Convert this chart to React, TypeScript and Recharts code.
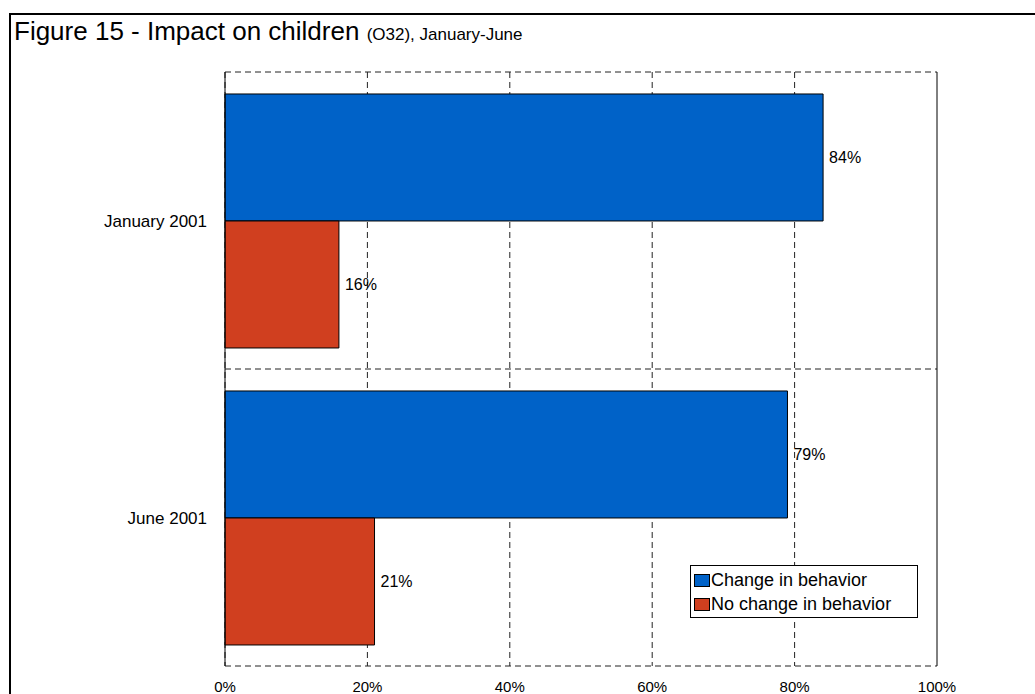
import React from "react";
import {
  BarChart,
  Bar,
  XAxis,
  YAxis,
  CartesianGrid,
  LabelList,
} from "recharts";

const periods = ["January 2001", "June 2001"];
const changed = [84, 79];
const unchanged = [16, 21];
const xTicks = [0, 20, 40, 60, 80, 100];

const FONT = "'Liberation Sans', Arial, Helvetica, sans-serif";

const series = [
  { key: "changed", name: "Change in behavior", color: "#0062c8" },
  { key: "unchanged", name: "No change in behavior", color: "#d03f1f" },
];

const data = periods.map((period, i) => ({
  period,
  changed: changed[i],
  unchanged: unchanged[i],
}));

const pct = (v: number) => `${v}%`;

// horizontal grid lines sit on the category boundaries, not on the tick centres
const boundaryLines = ({ offset }: any) => {
  const lines: number[] = [];
  for (let i = 0; i <= periods.length; i++) {
    lines.push(offset.top + (offset.height * i) / periods.length);
  }
  return lines;
};

// vertical grid: dashed, except the 100% line which closes the frame
const verticalLine = (p: any) => (
  <line
    key={p.key}
    x1={p.x1}
    y1={p.y1}
    x2={p.x2}
    y2={p.y2}
    stroke={p.index === xTicks.length - 1 ? "#000" : "#222"}
    strokeDasharray={p.index === xTicks.length - 1 ? undefined : "6 4"}
    fill="none"
  />
);

export default function App() {
  return (
    <div
      style={{
        position: "fixed",
        left: 0,
        top: 0,
        width: 1035,
        height: 694,
        background: "#fff",
        fontFamily: FONT,
        overflow: "hidden",
      }}
    >
      <div
        style={{
          position: "absolute",
          left: 9,
          top: 13,
          right: 0,
          bottom: 0,
          borderTop: "2px solid #000",
          borderLeft: "2px solid #000",
        }}
      />
      <div
        style={{
          position: "absolute",
          left: 14,
          top: 16,
          fontSize: 26,
          color: "#000",
          whiteSpace: "nowrap",
        }}
      >
        Figure 15 - Impact on children{" "}
        <span style={{ fontSize: 17 }}>(O32), January-June</span>
      </div>

      <div style={{ position: "absolute", left: 0, top: 0 }}>
        <BarChart
          width={1035}
          height={694}
          data={data}
          layout="vertical"
          margin={{ top: 72, right: 98, bottom: 0, left: 0 }}
          barCategoryGap="7.4%"
          barGap={0}
          style={{ fontFamily: FONT }}
        >
          <CartesianGrid
            stroke="#222"
            strokeDasharray="6 4"
            horizontalCoordinatesGenerator={boundaryLines}
            vertical={verticalLine}
          />
          <XAxis
            type="number"
            domain={[0, 100]}
            ticks={xTicks}
            interval={0}
            tickFormatter={pct}
            axisLine={false}
            tickLine={false}
            tickSize={0}
            tickMargin={15}
            height={28}
            tick={{ fill: "#000", fontSize: 15 }}
          />
          <YAxis
            type="category"
            dataKey="period"
            width={225}
            axisLine={{ stroke: "#000" }}
            tickLine={false}
            tickSize={0}
            tickMargin={18}
            tick={{ fill: "#000", fontSize: 17 }}
          />
          {series.map((s) => (
            <Bar
              key={s.key}
              dataKey={s.key}
              name={s.name}
              fill={s.color}
              stroke="#000"
              strokeWidth={1}
              isAnimationActive={false}
            >
              <LabelList
                dataKey={s.key}
                position="right"
                offset={6}
                formatter={pct}
                fill="#000"
                fontSize={16}
              />
            </Bar>
          ))}
        </BarChart>
      </div>

      <div
        style={{
          position: "absolute",
          left: 690,
          top: 565,
          width: 228,
          height: 53,
          boxSizing: "border-box",
          border: "1px solid #000",
          background: "#fff",
          padding: "2px 3px",
          fontSize: 18,
          color: "#000",
        }}
      >
        {series.map((s) => (
          <div key={s.key} style={{ display: "flex", alignItems: "center", height: 24 }}>
            <span
              style={{
                display: "inline-block",
                width: 14,
                height: 11,
                background: s.color,
                border: "1px solid #000",
                marginRight: 1,
              }}
            />
            {s.name}
          </div>
        ))}
      </div>
    </div>
  );
}
